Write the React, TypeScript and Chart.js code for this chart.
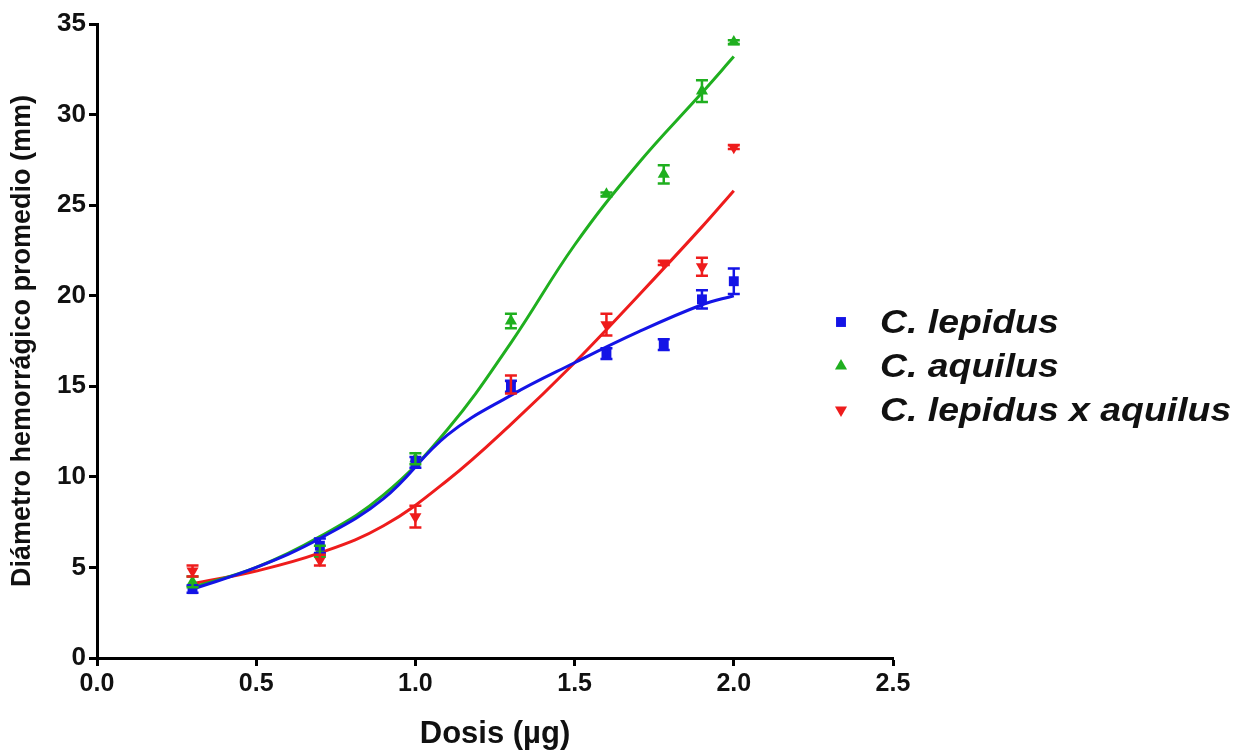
import React, { useEffect, useRef } from 'react';
import { Chart, registerables } from 'chart.js';

Chart.register(...registerables);

// ---- Data ----
const doses = [0.3, 0.7, 1.0, 1.3, 1.6, 1.78, 1.9, 2.0];

const lepidusMean = [3.8, 6.2, 10.8, 15.0, 16.8, 17.3, 19.8, 20.8];
const lepidusErr = [0.2, 0.4, 0.3, 0.3, 0.3, 0.3, 0.5, 0.7];

const aquilusMean = [4.2, 5.9, 11.0, 18.6, 25.6, 26.7, 31.3, 34.0];
const aquilusErr = [0.3, 0.3, 0.3, 0.4, 0.1, 0.5, 0.6, 0.1];

const hybridMean = [4.8, 5.4, 7.8, 15.1, 18.4, 21.8, 21.6, 28.2];
const hybridErr = [0.3, 0.3, 0.6, 0.5, 0.6, 0.1, 0.5, 0.1];

// fitted curves, read at these doses
const fitDoses = [0.3, 0.5, 0.7, 0.9, 1.1, 1.3, 1.5, 1.7, 1.9, 2.0];
const lepidusFit = [3.8, 5.0, 6.6, 8.8, 12.3, 14.5, 16.3, 18.0, 19.5, 20.0];
const aquilusFit = [3.9, 5.0, 6.7, 9.0, 12.6, 17.4, 22.8, 27.3, 31.2, 33.2];
const hybridFit = [4.1, 4.8, 5.8, 7.3, 9.8, 12.9, 16.3, 20.0, 23.8, 25.8];

const seriesLabels = ['C. lepidus', 'C. aquilus', 'C. lepidus x aquilus'];
const seriesColors = ['#1414e6', '#1faf1f', '#ee1c1c'];

const xTitle = 'Dosis (µg)';
const yTitle = 'Diámetro hemorrágico promedio (mm)';
const xMin = 0, xMax = 2.5, xStep = 0.5;
const yMin = 0, yMax = 35, yStep = 5;

const FONT = "'Liberation Sans', Arial, Helvetica, sans-serif";

const toPoints = (xs: number[], ys: number[]) => xs.map((x, i) => ({ x, y: ys[i] }));

const errorBarPlugin = {
  id: 'errorBars',
  afterDatasetsDraw(chart: any) {
    const ctx = chart.ctx;
    const xs = chart.scales.x;
    const ys = chart.scales.y;
    chart.data.datasets.forEach((ds: any, di: number) => {
      if (!ds.errors) return;
      if (!chart.isDatasetVisible(di)) return;
      ctx.save();
      ctx.strokeStyle = ds.borderColor;
      ctx.lineWidth = 2.5;
      ds.data.forEach((p: any, i: number) => {
        const e = ds.errors[i];
        if (!e) return;
        const px = xs.getPixelForValue(p.x);
        const yTop = ys.getPixelForValue(p.y + e);
        const yBot = ys.getPixelForValue(p.y - e);
        const cap = 6;
        ctx.beginPath();
        ctx.moveTo(px, yTop);
        ctx.lineTo(px, yBot);
        ctx.moveTo(px - cap, yTop);
        ctx.lineTo(px + cap, yTop);
        ctx.moveTo(px - cap, yBot);
        ctx.lineTo(px + cap, yBot);
        ctx.stroke();
      });
      ctx.restore();
    });
  },
};

function drawMarker(ctx: CanvasRenderingContext2D, style: string, rot: number, x: number, y: number, r: number) {
  ctx.beginPath();
  if (style === 'rect') {
    const s = r * Math.SQRT1_2;
    ctx.rect(x - s, y - s, 2 * s, 2 * s);
  } else {
    const dir = rot === 180 ? -1 : 1;
    ctx.moveTo(x, y - dir * r);
    ctx.lineTo(x + r * 0.866, y + dir * r * 0.5);
    ctx.lineTo(x - r * 0.866, y + dir * r * 0.5);
    ctx.closePath();
  }
  ctx.fill();
}

const sideLegendPlugin = {
  id: 'sideLegend',
  afterDraw(chart: any) {
    const ctx = chart.ctx;
    const area = chart.chartArea;
    const markerX = area.right - 52;
    const textX = area.right - 13;
    const startY = area.top + 298;
    const gap = 44;
    const items = chart.data.datasets.filter((d: any) => d.inLegend);
    ctx.save();
    items.forEach((ds: any, i: number) => {
      const y = startY + i * gap;
      ctx.fillStyle = ds.backgroundColor;
      drawMarker(ctx, ds.pointStyle, ds.pointRotation || 0, markerX, y, 7);
      ctx.save();
      ctx.fillStyle = '#111';
      ctx.font = `italic bold 34px ${FONT}`;
      ctx.textBaseline = 'middle';
      ctx.textAlign = 'left';
      ctx.translate(textX, y + 2);
      ctx.scale(1.1, 1);
      ctx.fillText(ds.label, 0, 0);
      ctx.restore();
    });
    ctx.restore();
  },
};

export default function App() {
  const ref = useRef<HTMLCanvasElement | null>(null);

  useEffect(() => {
    if (!ref.current) return;
    const means = [lepidusMean, aquilusMean, hybridMean];
    const errs = [lepidusErr, aquilusErr, hybridErr];
    const fits = [lepidusFit, aquilusFit, hybridFit];
    const styles = ['rect', 'triangle', 'triangle'];
    const rots = [0, 0, 180];

    const curveSets = fits.map((f, i) => ({
      label: seriesLabels[i] + ' fit',
      data: toPoints(fitDoses, f),
      showLine: true,
      borderColor: seriesColors[i],
      backgroundColor: seriesColors[i],
      borderWidth: 3,
      pointRadius: 0,
      tension: 0.4,
      order: 2,
    }));

    const pointSets = means.map((m, i) => ({
      label: seriesLabels[i],
      data: toPoints(doses, m),
      errors: errs[i],
      inLegend: true,
      showLine: false,
      borderColor: seriesColors[i],
      backgroundColor: seriesColors[i],
      pointStyle: styles[i],
      pointRotation: rots[i],
      pointRadius: 7,
      pointBorderWidth: 0,
      order: 1,
    }));

    const axisBorder = { display: true, color: '#000', width: 3 };
    const grid = {
      display: true,
      drawOnChartArea: false,
      drawTicks: true,
      tickLength: 8,
      tickWidth: 3,
      tickColor: '#000',
    };

    const chart = new Chart(ref.current, {
      type: 'scatter',
      data: { datasets: [...curveSets, ...pointSets] as any },
      plugins: [errorBarPlugin, sideLegendPlugin],
      options: {
        animation: false,
        responsive: true,
        maintainAspectRatio: false,
        layout: { padding: { top: 24, right: 349, bottom: 0, left: 0 } },
        plugins: {
          legend: { display: false },
          tooltip: { enabled: false },
        },
        scales: {
          x: {
            type: 'linear',
            min: xMin,
            max: xMax,
            border: axisBorder,
            grid,
            ticks: {
              stepSize: xStep,
              color: '#111',
              padding: 3,
              font: { family: FONT, size: 25, weight: 'bold' },
              callback: (v: any) => Number(v).toFixed(1),
            },
            title: {
              display: true,
              text: xTitle,
              color: '#111',
              padding: { top: 0, bottom: 0 },
              font: { family: FONT, size: 31, weight: 'bold', lineHeight: 1 },
            },
            afterFit: (s: any) => { s.height = 92; },
          },
          y: {
            type: 'linear',
            min: yMin,
            max: yMax,
            border: axisBorder,
            grid,
            ticks: {
              stepSize: yStep,
              color: '#111',
              padding: 3,
              font: { family: FONT, size: 26, weight: 'bold' },
            },
            title: {
              display: true,
              text: yTitle,
              color: '#111',
              padding: { top: 6, bottom: 0 },
              font: { family: FONT, size: 27, weight: 'bold' },
            },
            afterFit: (s: any) => { s.width = 97; },
          },
        },
      } as any,
    });
    return () => chart.destroy();
  }, []);

  return (
    <div style={{ position: 'fixed', left: 0, top: 0, width: 1242, height: 750, background: '#fff' }}>
      <canvas ref={ref} />
    </div>
  );
}
